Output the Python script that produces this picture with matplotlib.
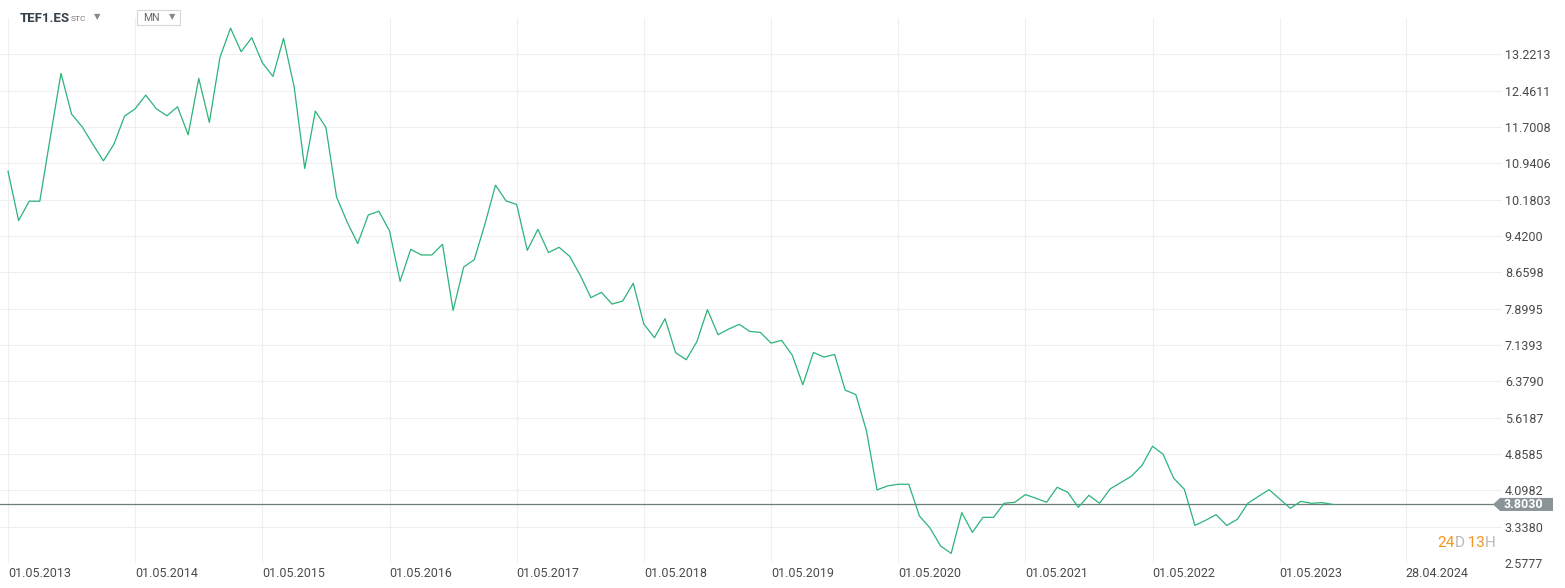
import numpy as np
import matplotlib.pyplot as plt
from matplotlib.patches import Polygon, Rectangle
from matplotlib.transforms import IdentityTransform

plt.rcParams["font.family"] = ["Roboto", "DejaVu Sans"]

line_color = "#2bb37a"
grid_color = "#efefef"
text_color = "#4a4a4a"
orange = "#f7941d"

ticker = "TEF1.ES"
interval = "MN"

# monthly closes, May 2013 .. Oct 2023
closes = [
    10.776, 9.743, 10.148, 10.148, 11.495, 12.823, 11.970, 11.704, 11.342, 10.992,
    11.342, 11.929, 12.082, 12.368, 12.082, 11.935, 12.124, 11.537, 12.718, 11.797,
    13.158, 13.770, 13.276, 13.570, 13.045, 12.760, 13.556, 12.543, 10.833, 12.033,
    11.692, 10.238, 9.714, 9.261, 9.861, 9.938, 9.526, 8.472, 9.142, 9.023,
    9.023, 9.247, 7.863, 8.770, 8.926, 9.666, 10.483, 10.154, 10.079, 9.120,
    9.560, 9.073, 9.184, 8.995, 8.597, 8.130, 8.241, 7.996, 8.059, 8.430,
    7.577, 7.292, 7.690, 6.978, 6.831, 7.208, 7.879, 7.355, 7.472, 7.571,
    7.424, 7.403, 7.179, 7.235, 6.928, 6.307, 6.984, 6.886, 6.942, 6.194,
    6.104, 5.350, 4.107, 4.191, 4.225, 4.225, 3.563, 3.311, 2.934, 2.779,
    3.632, 3.219, 3.533, 3.533, 3.827, 3.848, 4.009, 3.932, 3.848, 4.162,
    4.057, 3.743, 3.994, 3.827, 4.128, 4.260, 4.392, 4.617, 5.021, 4.853,
    4.350, 4.120, 3.365, 3.470, 3.590, 3.365, 3.491, 3.827, 3.973, 4.113,
    3.918, 3.722, 3.868, 3.827, 3.841, 3.803,
]
last_price = 3.8030

y_ticks = [2.5777, 3.3380, 4.0982, 4.8585, 5.6187, 6.3790, 7.1393, 7.8995,
           8.6598, 9.4200, 10.1803, 10.9406, 11.7008, 12.4611, 13.2213]
y_top = 13.9816

# x positions in months since 01.05.2013
x_ticks = [0, 12, 24, 36, 48, 60, 72, 84, 96, 108, 120, 131.9]
x_labels = ["01.05.2013", "01.05.2014", "01.05.2015", "01.05.2016", "01.05.2017",
            "01.05.2018", "01.05.2019", "01.05.2020", "01.05.2021", "01.05.2022",
            "01.05.2023", "28.04.2024"]

W, H = 1565, 588
fig = plt.figure(figsize=(W / 100, H / 100), dpi=100)
ax = fig.add_axes([0 / W, (H - 563) / H, 1502 / W, (563 - 18) / H])

months = np.arange(len(closes))
ax.plot(months, closes, color=line_color, lw=0.9, zorder=3)
ax.axhline(last_price, color="#6b7f78", lw=0.9, zorder=2)

px_per_month = (1279.7 - 8) / 120
ax.set_xlim(-8 / px_per_month, (1502 - 8) / px_per_month)
ax.set_ylim(y_ticks[0], y_top)

ax.set_yticks(y_ticks)
ax.set_yticklabels([f"{v:.4f}" for v in y_ticks])
ax.yaxis.tick_right()
ax.set_xticks(x_ticks)
ax.set_xticklabels(x_labels)
for lab in ax.get_xticklabels():
    lab.set_ha("left")
ax.tick_params(axis="both", length=0, labelsize=9, labelcolor=text_color)
ax.tick_params(axis="x", pad=3)
ax.tick_params(axis="y", pad=2)
ax.grid(True, color=grid_color, lw=0.8)
ax.set_axisbelow(True)
for s in ax.spines.values():
    s.set_visible(False)

# current price marker on the right
fig.canvas.draw()
_, py = ax.transData.transform((0, last_price))
x0 = ax.transAxes.transform((1, 0))[0] - 9
box = Polygon([(x0, py), (x0 + 7, py + 6.5), (x0 + 60, py + 6.5),
               (x0 + 60, py - 6.5), (x0 + 7, py - 6.5)],
              closed=True, facecolor="#8a9396", edgecolor="none",
              transform=IdentityTransform(), zorder=5)
fig.add_artist(box)
fig.text((x0 + 11) / W, py / H, f"{last_price:.4f}", color="white",
         fontsize=9, fontweight="bold", va="center", ha="left", zorder=6)

# countdown
t1 = fig.text(1437 / W, (H - 543) / H, "24", color=orange, fontsize=11, va="center")
t2 = ax.annotate("D", xy=(1, 0), xycoords=t1, va="bottom", color="#b8b8b8", fontsize=11)
t3 = ax.annotate(" 13", xy=(1, 0), xycoords=t2, va="bottom", color=orange, fontsize=11)
ax.annotate("H", xy=(1, 0), xycoords=t3, va="bottom", color="#b8b8b8", fontsize=11)

# header
fig.text(20 / W, (H - 18) / H, ticker, fontsize=9.5, fontweight="bold",
         color="#37414b", va="center")
fig.text(71 / W, (H - 19) / H, "STC", fontsize=6, color="#777777", va="center")
fig.text(97 / W, (H - 17) / H, "\u25BC", fontsize=6, color="#888888", va="center", ha="center")
fig.add_artist(Rectangle((137 / W, (H - 25) / H), 43 / W, 15 / H, transform=fig.transFigure,
                         facecolor="white", edgecolor="#d6d6d6", lw=0.8))
fig.text(143 / W, (H - 18) / H, interval, fontsize=7.5, color="#666666", va="center")
fig.text(172 / W, (H - 17) / H, "\u25BC", fontsize=6, color="#888888", va="center", ha="center")

fig.savefig("out.png", dpi=100)
